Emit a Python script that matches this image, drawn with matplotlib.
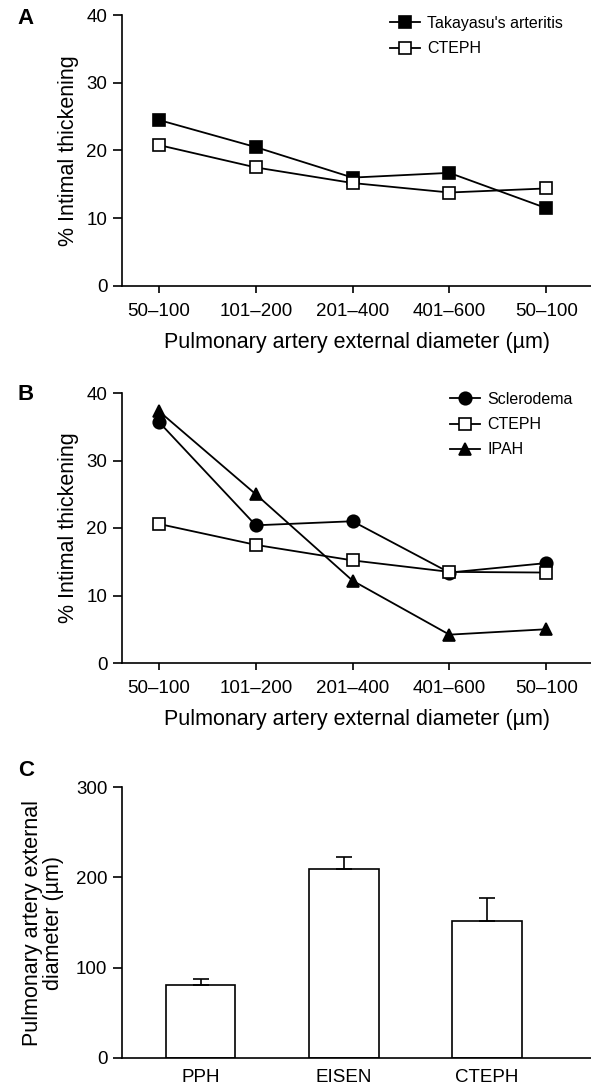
import numpy as np
import matplotlib.pyplot as plt

plt.rcParams['font.family'] = ['Liberation Sans', 'DejaVu Sans']

size_bins = ['50–100', '101–200', '201–400', '401–600', '50–100']

takayasu = [24.5, 20.5, 16.0, 16.7, 11.5]
cteph_a = [20.8, 17.5, 15.2, 13.8, 14.4]

sclerodema = [35.7, 20.4, 21.0, 13.4, 14.8]
cteph_b = [20.6, 17.5, 15.2, 13.5, 13.4]
ipah = [37.3, 25.0, 12.2, 4.2, 5.0]

groups = ['PPH', 'EISEN', 'CTEPH']
diam_mean = [81, 209, 152]
diam_sem = [6, 13, 25]

W, H = 591, 1087
fig = plt.figure(figsize=(W / 100, H / 100), dpi=100)


def box(left, top, right, bottom):
    return [left / W, 1 - bottom / H, (right - left) / W, (bottom - top) / H]


def style(ax):
    for s in ['top', 'right']:
        ax.spines[s].set_visible(False)
    for s in ['left', 'bottom']:
        ax.spines[s].set_linewidth(1.2)
    ax.tick_params(direction='out', width=1.2, labelsize=13.5)
    ax.tick_params(axis='y', length=6.5, pad=4)
    ax.tick_params(axis='x', length=5, pad=7)


line_kw = dict(color='black', lw=1.3, markersize=9, markeredgewidth=1.2)
xs = np.arange(len(size_bins))


def line_panel(ax, series, leg_x, leg_y):
    for vals, mk, fc, lab in series:
        ax.plot(xs, vals, marker=mk, markerfacecolor=fc, markeredgecolor='black',
                label=lab, clip_on=False, **line_kw)
    ax.set_xlim(-0.382, 4.463)
    ax.set_ylim(0, 40)
    ax.set_yticks([0, 10, 20, 30, 40])
    ax.set_xticks(xs)
    ax.set_xticklabels(size_bins)
    ax.set_ylabel('% Intimal thickening', fontsize=15.5, labelpad=5)
    ax.set_xlabel('Pulmonary artery external diameter (µm)', fontsize=15.5, labelpad=9)
    style(ax)
    ax.legend(loc='upper left', bbox_to_anchor=(leg_x, leg_y), frameon=False,
              borderpad=0, borderaxespad=0, fontsize=11.5, handlelength=1.9,
              handletextpad=0.45, labelspacing=0.64)


ax_a = fig.add_axes(box(122, 15, 591, 286))
line_panel(ax_a, [(takayasu, 's', 'black', "Takayasu's arteritis"),
                  (cteph_a, 's', 'white', 'CTEPH')], 0.571, 0.996)

ax_b = fig.add_axes(box(122, 393, 591, 663))
line_panel(ax_b, [(sclerodema, 'o', 'black', 'Sclerodema'),
                  (cteph_b, 's', 'white', 'CTEPH'),
                  (ipah, '^', 'black', 'IPAH')], 0.699, 1.004)

# bar panel with upward-only error bars
ax_c = fig.add_axes(box(122, 787, 591, 1058))
bx = np.arange(len(groups))
ax_c.bar(bx, diam_mean, width=0.483, color='white', edgecolor='black', linewidth=1.2)
ax_c.errorbar(bx, diam_mean, yerr=[np.zeros(len(groups)), diam_sem], fmt='none',
              ecolor='black', elinewidth=1.2, capsize=6, capthick=1.2)
ax_c.set_xlim(-0.552, 2.727)
ax_c.set_ylim(0, 300)
ax_c.set_yticks([0, 100, 200, 300])
ax_c.set_xticks(bx)
ax_c.set_xticklabels(groups)
ax_c.set_ylabel('Pulmonary artery external\ndiameter (µm)', fontsize=15.5, labelpad=8.5,
                linespacing=1.0)
style(ax_c)
ax_c.tick_params(axis='x', length=0, pad=8)

for letter, ypix in [('A', 18), ('B', 394), ('C', 771)]:
    fig.text(26 / W, 1 - ypix / H, letter, fontsize=16, fontweight='bold',
             ha='center', va='center')

fig.savefig('out.png', dpi=100)
